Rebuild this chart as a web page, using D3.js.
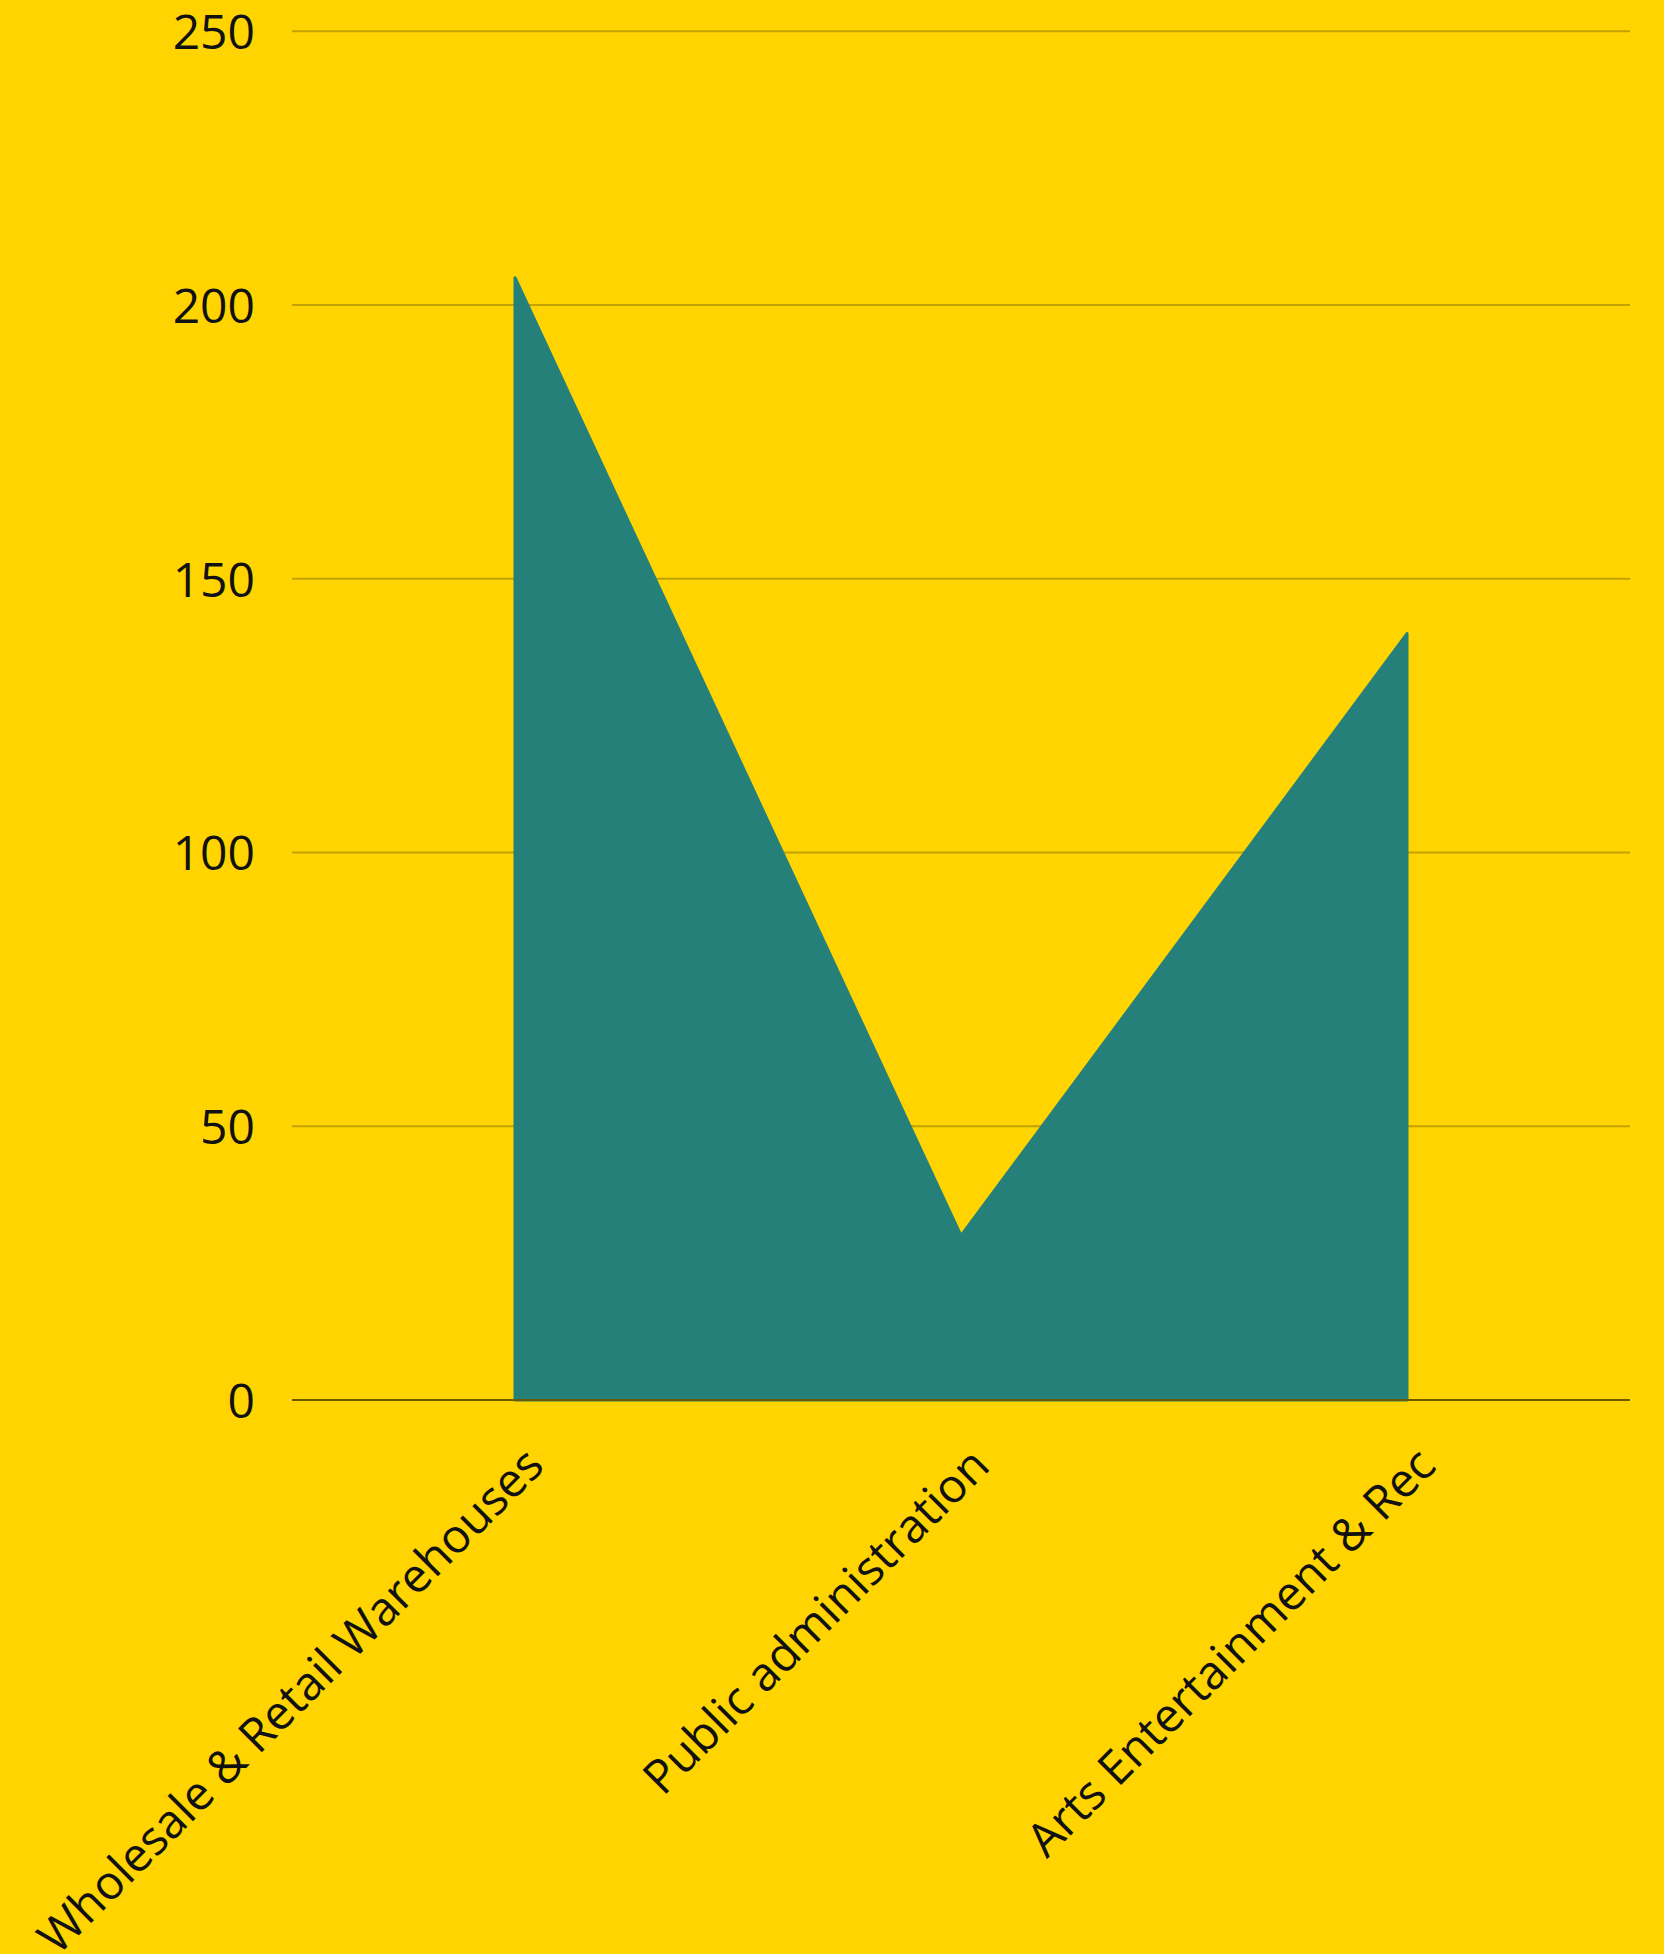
<!DOCTYPE html>
<html>
<head>
<meta charset="utf-8">
<script src="https://cdn.jsdelivr.net/npm/d3@7"></script>
<style>
  html, body { margin: 0; padding: 0; background: #FFD400; }
  svg { display: block; }
  text { font-family: "Open Sans", sans-serif; fill: #111; }
</style>
</head>
<body>
<div id="chart"></div>
<script>
const categories = ["Wholesale & Retail Warehouses", "Public administration", "Arts Entertainment & Rec"];
const values = [205, 30, 140];
const yTicks = [0, 50, 100, 150, 200, 250];

const W = 1664, H = 1954;
const mLeft = 292, mRight = 1630, mTop = 31.3, mBottom = 1400;

const svg = d3.select("#chart").append("svg").attr("width", W).attr("height", H);
svg.append("rect").attr("width", W).attr("height", H).attr("fill", "#FFD400");

const x = d3.scaleBand().domain(categories).range([mLeft, mRight]);
const y = d3.scaleLinear().domain([0, 250]).range([mBottom, mTop]);
const cx = d => x(d) + x.bandwidth() / 2;

// gridlines
svg.append("g").selectAll("line").data(yTicks.filter(t => t !== 0)).join("line")
  .attr("x1", mLeft).attr("x2", mRight)
  .attr("y1", d => y(d)).attr("y2", d => y(d))
  .attr("stroke", "#C2A200").attr("stroke-width", 2);

// y tick labels
svg.append("g").selectAll("text").data(yTicks).join("text")
  .attr("x", 255).attr("y", d => y(d))
  .attr("dy", "0.37em")
  .attr("text-anchor", "end")
  .attr("font-size", 48)
  .text(d => d);

// area
const data = categories.map((c, i) => ({ c, v: values[i] }));
const area = d3.area().x(d => cx(d.c)).y0(y(0)).y1(d => y(d.v));
svg.append("path").datum(data)
  .attr("d", area)
  .attr("fill", "#25807A")
  .attr("stroke", "#25807A")
  .attr("stroke-width", 3)
  .attr("stroke-linejoin", "round");

// baseline
svg.append("line")
  .attr("x1", mLeft).attr("x2", mRight)
  .attr("y1", y(0)).attr("y2", y(0))
  .attr("stroke", "#6B5A00").attr("stroke-width", 2);

// category labels
svg.append("g").selectAll("text").data(categories).join("text")
  .attr("transform", d => `translate(${cx(d) + 31},${mBottom + 68}) rotate(-45)`)
  .attr("text-anchor", "end")
  .attr("font-size", 47)
  .text(d => d);
</script>
</body>
</html>
